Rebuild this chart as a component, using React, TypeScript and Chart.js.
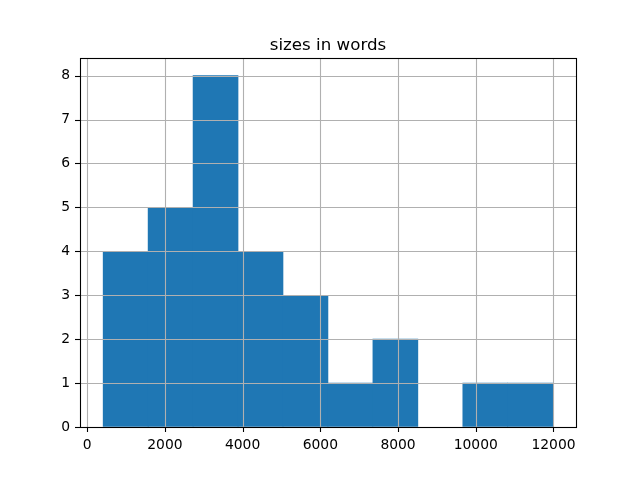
import React, { useEffect, useRef } from "react";
import { Chart, registerables } from "chart.js";

Chart.register(...registerables);

const title = "sizes in words";
const binEdges = [411, 1568, 2725, 3882, 5039, 6196, 7353, 8510, 9667, 10824, 11981];
const counts = [4, 5, 8, 4, 3, 1, 2, 0, 1, 1];
const xTicks = [0, 2000, 4000, 6000, 8000, 10000, 12000];
const yTicks = [0, 1, 2, 3, 4, 5, 6, 7, 8];

const FONT = "DejaVu Sans";

const overlay = {
  id: "mplOverlay",
  afterDatasetsDraw(chart: any) {
    const { ctx, chartArea: a, scales } = chart;
    const xs = scales.x;
    const ys = scales.y;
    ctx.save();
    ctx.strokeStyle = "#b0b0b0";
    ctx.lineWidth = 1.1;
    for (const t of xTicks) {
      const px = Math.round(xs.getPixelForValue(t)) + 0.5;
      ctx.beginPath();
      ctx.moveTo(px, a.top);
      ctx.lineTo(px, a.bottom);
      ctx.stroke();
    }
    for (const t of yTicks) {
      const py = Math.round(ys.getPixelForValue(t)) + 0.5;
      ctx.beginPath();
      ctx.moveTo(a.left, py);
      ctx.lineTo(a.right, py);
      ctx.stroke();
    }
    // frame
    ctx.strokeStyle = "#000";
    ctx.lineWidth = 1.1;
    ctx.strokeRect(Math.round(a.left) + 0.5, Math.round(a.top) + 0.5, Math.round(a.right - a.left), Math.round(a.bottom - a.top));
    // tick marks
    for (const t of xTicks) {
      const px = Math.round(xs.getPixelForValue(t)) + 0.5;
      ctx.beginPath();
      ctx.moveTo(px, a.bottom);
      ctx.lineTo(px, a.bottom + 5);
      ctx.stroke();
    }
    for (const t of yTicks) {
      const py = Math.round(ys.getPixelForValue(t)) + 0.5;
      ctx.beginPath();
      ctx.moveTo(a.left, py);
      ctx.lineTo(a.left - 5, py);
      ctx.stroke();
    }
    // title
    ctx.fillStyle = "#000";
    ctx.font = `16.67px "${FONT}"`;
    ctx.textAlign = "center";
    ctx.textBaseline = "alphabetic";
    ctx.fillText(title, (a.left + a.right) / 2, a.top - 8.5);
    ctx.restore();
  },
};

export default function App() {
  const ref = useRef<HTMLCanvasElement>(null);
  useEffect(() => {
    document.body.style.margin = "0";
    const centers = counts.map((_, i) => (binEdges[i] + binEdges[i + 1]) / 2);
    const chart = new Chart(ref.current!, {
      type: "bar",
      data: {
        datasets: [
          {
            data: centers.map((c, i) => ({ x: c, y: counts[i] === 0 ? null : counts[i] })),
            backgroundColor: "#1f77b4",
            borderWidth: 0,
            barPercentage: 1,
            categoryPercentage: 1,
          } as any,
        ],
      },
      options: {
        animation: false,
        responsive: false,
        layout: { padding: { top: 58, right: 64, left: 0, bottom: 0 } },
        plugins: { legend: { display: false }, title: { display: false }, tooltip: { enabled: false } },
        scales: {
          x: {
            type: "linear",
            offset: false,
            min: -185,
            max: 12580,
            afterBuildTicks: (s: any) => {
              s.ticks = xTicks.map((v) => ({ value: v }));
            },
            afterFit: (s: any) => {
              s.height = 53;
            },
            grid: { display: true, offset: false, drawOnChartArea: false, drawTicks: false },
            border: { display: false },
            ticks: {
              color: "#000",
              font: { family: FONT, size: 13.89 },
              padding: 10,
              maxRotation: 0,
              autoSkip: false,
              callback: (v: any) => String(v),
            },
          },
          y: {
            type: "linear",
            min: 0,
            max: 8.4,
            afterBuildTicks: (s: any) => {
              s.ticks = yTicks.map((v) => ({ value: v }));
            },
            afterFit: (s: any) => {
              s.width = 80;
            },
            grid: { display: true, drawOnChartArea: false, drawTicks: false },
            border: { display: false },
            ticks: {
              color: "#000",
              font: { family: FONT, size: 13.89 },
              padding: 10,
              autoSkip: false,
              callback: (v: any) => String(v),
            },
          },
        },
      },
      plugins: [overlay],
    });
    return () => chart.destroy();
  }, []);
  return (
    <div style={{ position: "absolute", left: 0, top: 0, width: 640, height: 480, background: "#fff" }}>
      <canvas ref={ref} width={640} height={480} />
    </div>
  );
}
